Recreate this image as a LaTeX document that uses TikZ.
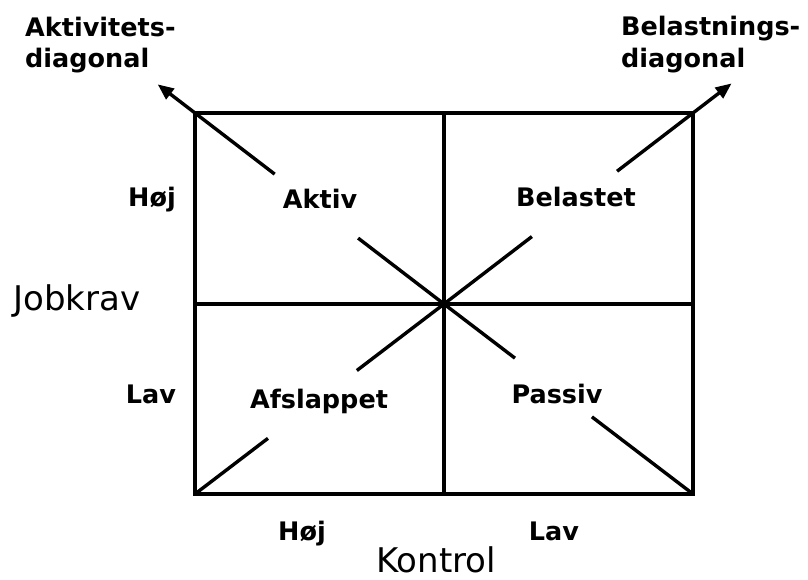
\documentclass[tikz,border=0pt]{standalone}
\usepackage{fontspec}
\setmainfont{DejaVu Sans}
\usetikzlibrary{calc,arrows.meta}
\begin{document}
\begin{tikzpicture}[x=1pt,y=-1pt,
  grid/.style={line width=3.4pt},
  diag/.style={line width=3.4pt},
  arr/.style={line width=3.4pt,-{Triangle[length=16pt,width=13pt]}},
  lbl/.style={inner sep=0pt,font=\fontsize{25.5}{30}\selectfont\bfseries},
  axis/.style={inner sep=0pt,font=\fontsize{34}{38}\selectfont}]
\useasboundingbox (0,0) rectangle (808,580);
\fill[white] (0,0) rectangle (808,580);
% corners and centre
\coordinate (TL) at (195,113);
\coordinate (TR) at (693,113);
\coordinate (BL) at (195,494);
\coordinate (BR) at (693,494);
\coordinate (C) at (444,304);
\coordinate (TM) at (444,113);
\coordinate (BM) at (444,494);
\coordinate (LM) at (195,304);
\coordinate (RM) at (693,304);
% box and cross
\draw[grid] (TL) rectangle (BR);
\draw[grid] (TM) -- (BM);
\draw[grid] (LM) -- (RM);
% Aktivitets-diagonal (BR -> TL)
\draw[diag] (BR) -- ($(C)!0.594!(BR)$);
\draw[diag] ($(C)!0.285!(BR)$) -- (C) -- ($(C)!0.345!(TL)$);
\draw[diag] ($(C)!0.68!(TL)$) -- (TL);
\coordinate (tipA) at ($(TL)!-0.15!(C)$);
\draw[arr] (TL) -- (tipA);
% Belastnings-diagonal (BL -> TR)
\draw[diag] (BL) -- ($(C)!0.707!(BL)$);
\draw[diag] ($(C)!0.35!(BL)$) -- (C) -- ($(C)!0.353!(TR)$);
\draw[diag] ($(C)!0.695!(TR)$) -- (TR);
\coordinate (tipB) at ($(TR)!-0.155!(C)$);
\draw[arr] (TR) -- (tipB);
% top labels
\node[lbl,anchor=base west] (akt1) at (25,37) {Aktivitets-};
\node[lbl,anchor=base west] (akt2) at (25,68) {diagonal};
\node[lbl,anchor=base west] (bel1) at (621,36) {Belastnings-};
\node[lbl,anchor=base west] (bel2) at (621,68) {diagonal};
% quadrant labels
\node[lbl,anchor=base] (aktiv) at (320,208) {Aktiv};
\node[lbl,anchor=base] (belastet) at (576,207) {Belastet};
\node[lbl,anchor=base] (afsl) at (319,408) {Afslappet};
\node[lbl,anchor=base] (passiv) at (557,403) {Passiv};
% axis values
\node[lbl,anchor=base] (hojL) at (152,207) {Høj};
\node[lbl,anchor=base] (lavL) at (151,403) {Lav};
\node[lbl,anchor=base] (hojB) at (302,540) {Høj};
\node[lbl,anchor=base] (lavB) at (554,540) {Lav};
% axis titles
\node[axis,anchor=base] (jobkrav) at (77,310) {Jobkrav};
\node[axis,anchor=base] (kontrol) at (436,572) {Kontrol};
\end{tikzpicture}
\end{document}
